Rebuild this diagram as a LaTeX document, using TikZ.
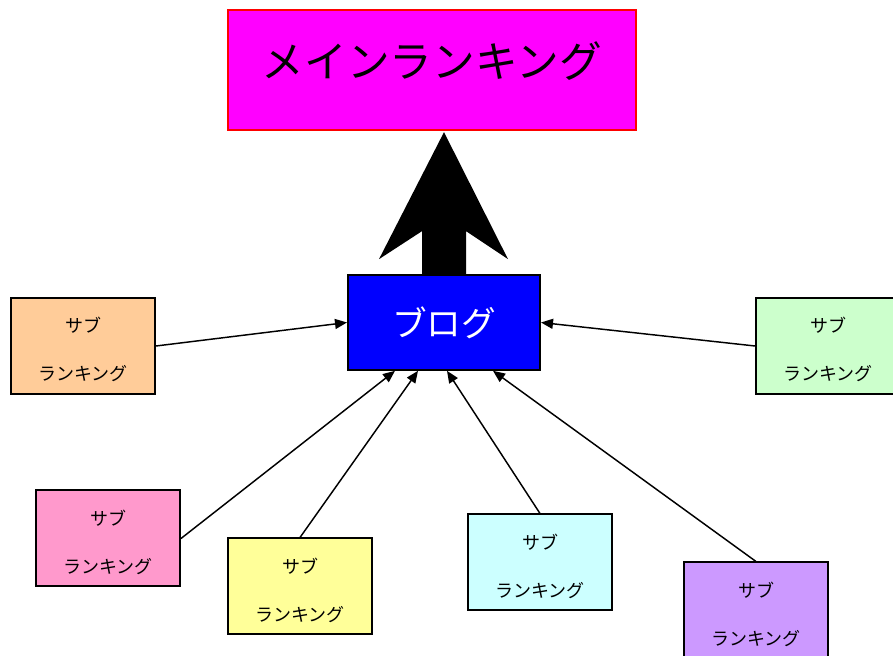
\documentclass[tikz,border=0pt]{standalone}
\usepackage{fontspec}
\setmainfont{Noto Sans CJK JP}
\usetikzlibrary{calc,arrows.meta}

\definecolor{mainpink}{HTML}{FF00FF}
\definecolor{suborange}{HTML}{FFCC99}
\definecolor{subgreen}{HTML}{CCFFCC}
\definecolor{subpink}{HTML}{FF99CC}
\definecolor{subyellow}{HTML}{FFFF99}
\definecolor{subcyan}{HTML}{CCFFFF}
\definecolor{subviolet}{HTML}{CC99FF}

\newcommand\subtext{\rule{0pt}{17pt}サブ\\ランキング}

\tikzset{
	subbox/.style={draw, line width=1.5pt, minimum width=108pt, minimum height=72pt,
		align=center, font=\fontsize{13.5}{36}\selectfont},
	feed/.style={line width=1.1pt, -{Triangle[length=9pt,width=7.5pt]}}
}

\begin{document}
\begin{tikzpicture}[x=.75pt,y=.75pt]
	\useasboundingbox (0,0) rectangle (893,656);

	\node [draw=red, line width=1.5pt, fill=mainpink, minimum width=306pt, minimum height=90pt,
		text depth=15pt, font=\fontsize{32}{36}\selectfont] (main) at (432,586) {メインランキング};
	\node [draw, line width=1.5pt, fill=blue, text=white, minimum width=144pt, minimum height=71pt,
		font=\fontsize{26}{30}\selectfont] (blog) at (444,333.5) {ブログ};

	% big arrow up to the main ranking
	\fill ($(blog.north)+(-22,0)$) -- ($(blog.north)+(-22,43)$) -- ($(blog.north)+(-65,15)$)
		-- ($(blog.north)+(0,142)$) -- ($(blog.north)+(64,15)$) -- ($(blog.north)+(22,43)$)
		-- ($(blog.north)+(22,0)$) -- cycle;

	\node [subbox, fill=suborange] (s1) at (83,310) {\subtext};
	\node [subbox, fill=subgreen] (s2) at (828,310) {\subtext};
	\node [subbox, fill=subpink] (s3) at (108,117.5) {\subtext};
	\node [subbox, fill=subyellow] (s4) at (300,69.5) {\subtext};
	\node [subbox, fill=subcyan] (s5) at (540,93.5) {\subtext};
	\node [subbox, fill=subviolet] (s6) at (756,45.5) {\subtext};

	\coordinate (b3) at ($(blog.south)+(-49,0)$);
	\coordinate (b4) at ($(blog.south)+(-26,0)$);
	\coordinate (b5) at ($(blog.south)+(3,0)$);
	\coordinate (b6) at ($(blog.south)+(49,0)$);

	\draw [feed] (s1.east) -- (blog.west);
	\draw [feed] (s2.west) -- (blog.east);
	\draw [feed] (s3.east) -- (b3);
	\draw [feed] (s4.north) -- (b4);
	\draw [feed] (s5.north) -- (b5);
	\draw [feed] (s6.north) -- (b6);
\end{tikzpicture}
\end{document}
